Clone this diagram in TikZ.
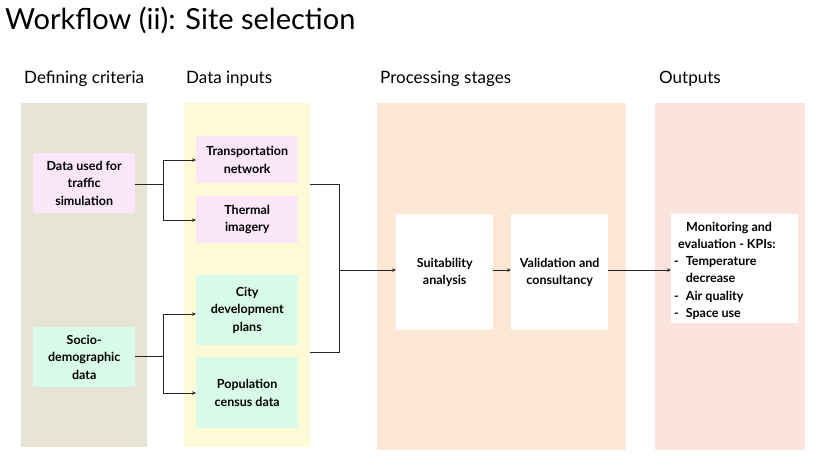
\documentclass[tikz,border=0pt]{standalone}
\usepackage{fontspec}
\setmainfont{Lato}
\usetikzlibrary{arrows.meta,positioning}
\definecolor{colA}{HTML}{E5E4D5}
\definecolor{colB}{HTML}{FEFAD6}
\definecolor{colC}{HTML}{FDE8D5}
\definecolor{colD}{HTML}{FCE4DE}
\definecolor{pinkbox}{HTML}{FCE6FA}
\definecolor{mintbox}{HTML}{D9FCEA}
\tikzset{
  panel/.style={draw=none,rectangle,inner sep=0pt,anchor=north west},
  box/.style={draw=none,rectangle,inner sep=0pt,anchor=north west,align=center,
     font=\fontsize{12.5}{17.5}\selectfont\bfseries},
  hdr/.style={anchor=base west,inner sep=0pt,font=\fontsize{17}{20}\selectfont},
  conn/.style={draw=black!85,line width=0.8pt},
  arr/.style={conn,-{Stealth[length=4pt,width=3.5pt]}},
}
\begin{document}
\begin{tikzpicture}[x=1pt,y=-1pt]
\useasboundingbox (0,0) rectangle (813,461);
\node[anchor=base west,inner sep=0pt,font=\fontsize{29}{32}\selectfont] (title) at (5,29) {Workflow (ii): Site selection};
% headers
\node[hdr] (h1) at (24,83) {Defining criteria};
\node[hdr] (h2) at (186,83) {Data inputs};
\node[hdr] (h3) at (380,83) {Processing stages};
\node[hdr] (h4) at (659,83) {Outputs};
% panels
\node[panel,fill=colA,minimum width=126pt,minimum height=344pt] (p1) at (21,103) {};
\node[panel,fill=colB,minimum width=126pt,minimum height=344pt] (p2) at (184,103) {};
\node[panel,fill=colC,minimum width=249pt,minimum height=347pt] (p3) at (377,103) {};
\node[panel,fill=colD,minimum width=150pt,minimum height=347pt] (p4) at (655,103) {};
% boxes
\node[box,fill=pinkbox,minimum width=102pt,minimum height=60pt] (traffic) at (33,153) {Data used for\\traffic\\simulation};
\node[box,fill=mintbox,minimum width=102pt,minimum height=60pt] (socio) at (33,327) {Socio-\\demographic\\data};
\node[box,fill=pinkbox,minimum width=102pt,minimum height=47pt] (transp) at (196,136) {Transportation\\network};
\node[box,fill=pinkbox,minimum width=102pt,minimum height=47pt] (thermal) at (196,196) {Thermal\\imagery};
\node[box,fill=mintbox,minimum width=102pt,minimum height=70pt] (city) at (196,275) {City\\development\\plans};
\node[box,fill=mintbox,minimum width=102pt,minimum height=71pt] (pop) at (196,357) {Population\\census data};
\node[box,fill=white,minimum width=97pt,minimum height=116pt] (suit) at (396,214) {Suitability\\analysis};
\node[box,fill=white,minimum width=97pt,minimum height=116pt] (valid) at (511,214) {Validation and\\consultancy};
\node[box,fill=white,minimum width=127pt,minimum height=109pt] (kpi) at (671,214) {};
\node[anchor=north west,inner sep=0pt,font=\fontsize{12.5}{17.2}\selectfont\bfseries] (kpitext) at (674,219) {%
\begin{tabular}{@{}l@{\hspace{7pt}}l@{}}
\multicolumn{2}{@{}l@{}}{\hspace{12pt}Monitoring and}\\
\multicolumn{2}{@{}l@{}}{\hspace{4pt}evaluation - KPIs:}\\
- & Temperature\\
 & decrease\\
- & Air quality\\
- & Space use
\end{tabular}};
% coordinates
\coordinate (j1) at (163,184);
\coordinate (j2) at (163,356);
\coordinate (m) at (339,270);
% connectors
\draw[conn] (traffic.east |- j1) -- (j1);
\draw[arr] (j1) |- (transp.west |- 0,160);
\draw[arr] (j1) |- (thermal.west |- 0,220);
\draw[conn] (socio.east |- j2) -- (j2);
\draw[arr] (j2) |- (city.west |- 0,314);
\draw[arr] (j2) |- (pop.west |- 0,393);
\draw[conn] (p2.east |- 0,184) -| (m);
\draw[conn] (p2.east |- 0,352) -| (m);
\draw[arr] (m) -- (suit.west |- m);
\draw[arr] (suit.east |- m) -- (valid.west |- m);
\draw[arr] (valid.east |- m) -- (kpi.west |- m);
\end{tikzpicture}
\end{document}
